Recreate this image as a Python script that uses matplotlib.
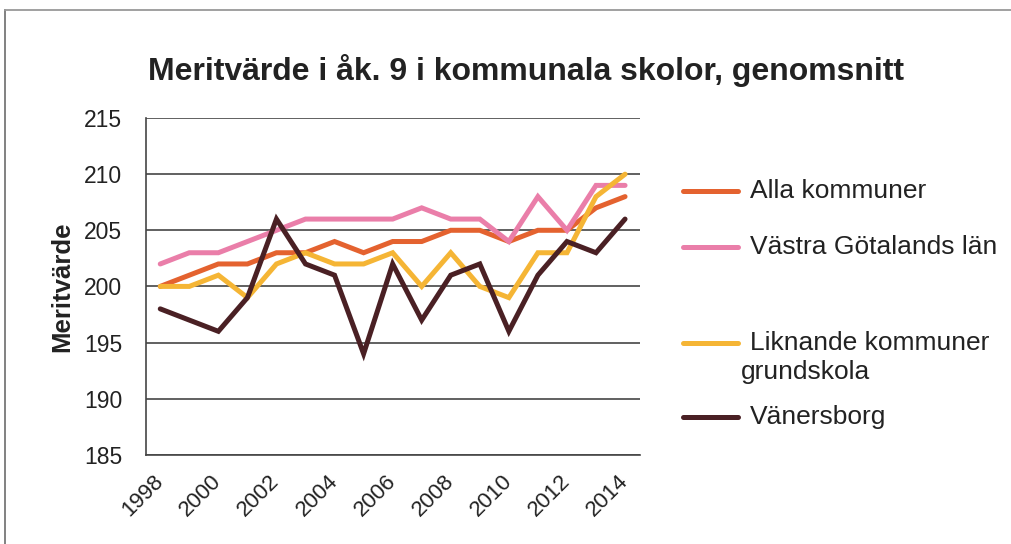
import matplotlib.pyplot as plt
from matplotlib.lines import Line2D
import numpy as np

plt.rcParams['font.family'] = ['Liberation Sans', 'DejaVu Sans']

years = np.arange(1998, 2015)
alla = [200, 201, 202, 202, 203, 203, 204, 203, 204, 204, 205, 205, 204, 205, 205, 207, 208]
vastra = [202, 203, 203, 204, 205, 206, 206, 206, 206, 207, 206, 206, 204, 208, 205, 209, 209]
liknande = [200, 200, 201, 199, 202, 203, 202, 202, 203, 200, 203, 200, 199, 203, 203, 208, 210]
vanersborg = [198, 197, 196, 199, 206, 202, 201, 194, 202, 197, 201, 202, 196, 201, 204, 203, 206]

labels = ["Alla kommuner", "Västra Götalands län", "Liknande kommuner\ngrundskola", "Vänersborg"]
colors = ["#E4622F", "#EA7EA9", "#F5B535", "#4A2024"]
series = [alla, vastra, liknande, vanersborg]

W, H = 1012, 544
fig = plt.figure(figsize=(W / 100, H / 100), dpi=100)
ax = fig.add_axes([0.144, 0.164, 0.488, 0.619])

for vals, col in zip(series, colors):
    ax.plot(years, vals, color=col, lw=3.6, solid_capstyle='round', solid_joinstyle='miter')

ax.set_xlim(1997.5, 2014.5)
ax.set_ylim(185, 215)
ax.set_yticks(np.arange(185, 216, 5))
ax.set_xticks(years[::2])
ax.grid(axis='y', color='#454545', lw=1.2)
ax.set_axisbelow(True)
for s in ['top', 'right']:
    ax.spines[s].set_visible(False)
for s in ['left', 'bottom']:
    ax.spines[s].set_color('#454545')
    ax.spines[s].set_linewidth(1.2)
ax.tick_params(axis='y', length=0, pad=17, labelsize=16.5, colors='#222222')
ax.tick_params(axis='x', length=0, pad=17, labelsize=16, colors='#222222')
for t in ax.get_xticklabels():
    t.set_rotation(45)
    t.set_rotation_mode('anchor')
    t.set_ha('right')
    t.set_va('center')

ax.set_ylabel("Meritvärde", fontsize=18.5, fontweight='bold', labelpad=7, color='#222222')
fig.text(148 / W, 0.87, "Meritvärde i åk. 9 i kommunala skolor, genomsnitt",
         fontsize=23, fontweight='bold', color='#222222', va='center', ha='left')

# legend drawn by hand so the handle sits on the first text line
leg_y = [191, 247, 343, 417]
for lab, col, yp in zip(labels, colors, leg_y):
    yf = 1 - yp / H
    fig.add_artist(Line2D([683 / W, 738 / W], [yf, yf], color=col, lw=3.6,
                          solid_capstyle='round'))
    for i, part in enumerate(lab.split('\n')):
        xt = 750 if i == 0 else 741
        fig.text(xt / W, 1 - (yp + i * 29) / H, part, fontsize=19, color='#222222', va='center')

# scanned page frame
fig.add_artist(Line2D([5 / W, 5 / W], [0, 1 - 10 / H], color='#777777', lw=1.3))
fig.add_artist(Line2D([5 / W, 1], [1 - 10 / H, 1 - 10 / H], color='#999999', lw=1.3))

fig.savefig("out.png", dpi=100)
